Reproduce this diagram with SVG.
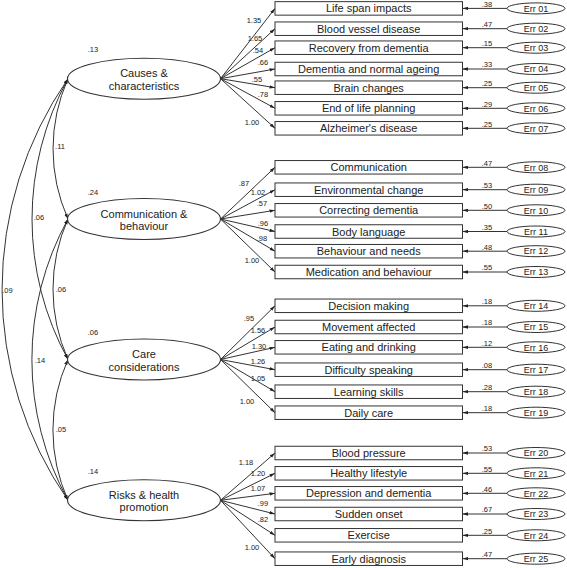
<svg xmlns="http://www.w3.org/2000/svg" width="567" height="568" viewBox="0 0 567 568">
<style>
.ln{fill:none;stroke:#333;stroke-width:1}
.ae{marker-end:url(#ah)}
.dbl{marker-start:url(#ah);marker-end:url(#ah)}
.box{fill:#fff;stroke:#333;stroke-width:1}
.lat{fill:#fff;stroke:#333;stroke-width:1.1}
.err{fill:#fff;stroke:#333;stroke-width:1}
text{font-family:"Liberation Sans",Arial,sans-serif;fill:#222}
.bt{font-size:11px;text-anchor:middle}
.lt{font-size:11px;text-anchor:middle}
.et{font-size:9px;text-anchor:middle}
.sm{font-size:7.5px;text-anchor:middle}
</style>
<defs>
<marker id="ah" viewBox="0 0 10 6" refX="10" refY="3" markerWidth="5.5" markerHeight="3.6" markerUnits="userSpaceOnUse" orient="auto-start-reverse">
<path d="M0,0 L10,3 L0,6 z" fill="#222"/>
</marker>
</defs>

<g id="connectors">
<!-- covariances -->
<path class="ln dbl" d="M68,78.7 A172,172 0 0 0 68,219"/>
<path class="ln dbl" d="M68,78.7 A292,292 0 0 0 68,359.5"/>
<path class="ln dbl" d="M68,78.7 A370,370 0 0 0 68,500.3"/>
<path class="ln dbl" d="M68,219 A172,172 0 0 0 68,359.5"/>
<path class="ln dbl" d="M68,219 A292,292 0 0 0 68,500.3"/>
<path class="ln dbl" d="M68,359.5 A172,172 0 0 0 68,500.3"/>
<!-- loadings -->
<path class="ln ae" d="M220.5,78.7 L275,8.4"/>
<path class="ln ae" d="M220.5,78.7 L275,28.7"/>
<path class="ln ae" d="M220.5,78.7 L275,47.7"/>
<path class="ln ae" d="M220.5,78.7 L275,69"/>
<path class="ln ae" d="M220.5,78.7 L275,87.7"/>
<path class="ln ae" d="M220.5,78.7 L275,108.3"/>
<path class="ln ae" d="M220.5,78.7 L275,128.3"/>
<path class="ln ae" d="M220.5,219 L275,167.3"/>
<path class="ln ae" d="M220.5,219 L275,189.7"/>
<path class="ln ae" d="M220.5,219 L275,210.3"/>
<path class="ln ae" d="M220.5,219 L275,231.5"/>
<path class="ln ae" d="M220.5,219 L275,251.2"/>
<path class="ln ae" d="M220.5,219 L275,272"/>
<path class="ln ae" d="M220.5,359.5 L275,305.8"/>
<path class="ln ae" d="M220.5,359.5 L275,327"/>
<path class="ln ae" d="M220.5,359.5 L275,347.3"/>
<path class="ln ae" d="M220.5,359.5 L275,369.7"/>
<path class="ln ae" d="M220.5,359.5 L275,391.7"/>
<path class="ln ae" d="M220.5,359.5 L275,412.7"/>
<path class="ln ae" d="M220.5,500.3 L275,453"/>
<path class="ln ae" d="M220.5,500.3 L275,473.3"/>
<path class="ln ae" d="M220.5,500.3 L275,493.3"/>
<path class="ln ae" d="M220.5,500.3 L275,514"/>
<path class="ln ae" d="M220.5,500.3 L275,535.3"/>
<path class="ln ae" d="M220.5,500.3 L275,558.7"/>
<!-- error arrows -->
<path class="ln ae" d="M507,8.4 L462.5,8.4"/>
<path class="ln ae" d="M507,28.7 L462.5,28.7"/>
<path class="ln ae" d="M507,47.7 L462.5,47.7"/>
<path class="ln ae" d="M507,69 L462.5,69"/>
<path class="ln ae" d="M507,87.7 L462.5,87.7"/>
<path class="ln ae" d="M507,108.3 L462.5,108.3"/>
<path class="ln ae" d="M507,128.3 L462.5,128.3"/>
<path class="ln ae" d="M507,167.3 L462.5,167.3"/>
<path class="ln ae" d="M507,189.7 L462.5,189.7"/>
<path class="ln ae" d="M507,210.3 L462.5,210.3"/>
<path class="ln ae" d="M507,231.5 L462.5,231.5"/>
<path class="ln ae" d="M507,251.2 L462.5,251.2"/>
<path class="ln ae" d="M507,272 L462.5,272"/>
<path class="ln ae" d="M507,305.8 L462.5,305.8"/>
<path class="ln ae" d="M507,327 L462.5,327"/>
<path class="ln ae" d="M507,347.3 L462.5,347.3"/>
<path class="ln ae" d="M507,369.7 L462.5,369.7"/>
<path class="ln ae" d="M507,391.7 L462.5,391.7"/>
<path class="ln ae" d="M507,412.7 L462.5,412.7"/>
<path class="ln ae" d="M507,453 L462.5,453"/>
<path class="ln ae" d="M507,473.3 L462.5,473.3"/>
<path class="ln ae" d="M507,493.3 L462.5,493.3"/>
<path class="ln ae" d="M507,514 L462.5,514"/>
<path class="ln ae" d="M507,535.3 L462.5,535.3"/>
<path class="ln ae" d="M507,558.7 L462.5,558.7"/>
<!-- covariance labels -->
<text class="sm" x="60" y="148.7">.11</text>
<text class="sm" x="39" y="219.7">.06</text>
<text class="sm" x="7.5" y="292.7">.09</text>
<text class="sm" x="61" y="291.7">.06</text>
<text class="sm" x="40" y="362.7">.14</text>
<text class="sm" x="61" y="431.7">.05</text>
<!-- loading labels -->
<text class="sm" x="254" y="22.7">1.35</text>
<text class="sm" x="255" y="40.7">1.65</text>
<text class="sm" x="258" y="52.7">.54</text>
<text class="sm" x="263" y="64.7">.66</text>
<text class="sm" x="257" y="81.7">.55</text>
<text class="sm" x="263" y="96.7">.78</text>
<text class="sm" x="252" y="124.7">1.00</text>
<text class="sm" x="244" y="185.7">.87</text>
<text class="sm" x="258" y="194.7">1.02</text>
<text class="sm" x="262" y="205.7">.57</text>
<text class="sm" x="263" y="225.7">.96</text>
<text class="sm" x="262" y="240.7">.98</text>
<text class="sm" x="252" y="262.7">1.00</text>
<text class="sm" x="249" y="320.7">.95</text>
<text class="sm" x="258" y="332.7">1.56</text>
<text class="sm" x="259" y="348.7">1.30</text>
<text class="sm" x="258" y="363.7">1.26</text>
<text class="sm" x="258" y="380.7">1.05</text>
<text class="sm" x="247" y="403.7">1.00</text>
<text class="sm" x="246" y="464.7">1.18</text>
<text class="sm" x="258" y="475.7">1.20</text>
<text class="sm" x="258" y="490.7">1.07</text>
<text class="sm" x="263" y="505.7">.99</text>
<text class="sm" x="263" y="521.7">.82</text>
<text class="sm" x="252" y="549.7">1.00</text>
<!-- error variance labels -->
<text class="sm" x="487" y="6.7">.38</text>
<text class="sm" x="487" y="27">.47</text>
<text class="sm" x="487" y="46">.15</text>
<text class="sm" x="487" y="67.3">.33</text>
<text class="sm" x="487" y="86">.25</text>
<text class="sm" x="487" y="106.6">.29</text>
<text class="sm" x="487" y="126.6">.25</text>
<text class="sm" x="487" y="165.6">.47</text>
<text class="sm" x="487" y="188">.53</text>
<text class="sm" x="487" y="208.6">.50</text>
<text class="sm" x="487" y="229.8">.35</text>
<text class="sm" x="487" y="249.5">.48</text>
<text class="sm" x="487" y="270.3">.55</text>
<text class="sm" x="487" y="304.1">.18</text>
<text class="sm" x="487" y="325.3">.18</text>
<text class="sm" x="487" y="345.6">.12</text>
<text class="sm" x="487" y="368">.08</text>
<text class="sm" x="487" y="390">.28</text>
<text class="sm" x="487" y="411">.18</text>
<text class="sm" x="487" y="451.3">.53</text>
<text class="sm" x="487" y="471.6">.55</text>
<text class="sm" x="487" y="491.6">.46</text>
<text class="sm" x="487" y="512.3">.67</text>
<text class="sm" x="487" y="533.6">.25</text>
<text class="sm" x="487" y="557">.47</text>
</g>

<!-- latent variables -->
<g id="causes">
<ellipse class="lat" cx="144" cy="78.7" rx="76.5" ry="20.5"/>
<text class="lt" x="144" y="77.2">Causes &amp;</text>
<text class="lt" x="144" y="89.5">characteristics</text>
<text class="sm" x="93" y="51.7">.13</text>
</g>
<g id="communication">
<ellipse class="lat" cx="144" cy="219" rx="76.5" ry="20.5"/>
<text class="lt" x="144" y="217.5">Communication &amp;</text>
<text class="lt" x="144" y="230">behaviour</text>
<text class="sm" x="93" y="195.4">.24</text>
</g>
<g id="care">
<ellipse class="lat" cx="144" cy="359.5" rx="76.5" ry="20.5"/>
<text class="lt" x="144" y="357.8">Care</text>
<text class="lt" x="144" y="370.5">considerations</text>
<text class="sm" x="93" y="335.4">.06</text>
</g>
<g id="risks">
<ellipse class="lat" cx="144" cy="500.3" rx="76.5" ry="20.5"/>
<text class="lt" x="144" y="498.6">Risks &amp; health</text>
<text class="lt" x="144" y="511.2">promotion</text>
<text class="sm" x="93" y="474.4">.14</text>
</g>

<!-- observed items -->
<g id="item01"><rect class="box" x="275" y="1.65" width="187.5" height="13.5"/><text class="bt" x="368.7" y="12.4">Life span impacts</text></g>
<g id="item02"><rect class="box" x="275" y="21.95" width="187.5" height="13.5"/><text class="bt" x="368.7" y="32.7">Blood vessel disease</text></g>
<g id="item03"><rect class="box" x="275" y="40.95" width="187.5" height="13.5"/><text class="bt" x="368.7" y="51.7">Recovery from dementia</text></g>
<g id="item04"><rect class="box" x="275" y="62.25" width="187.5" height="13.5"/><text class="bt" x="368.7" y="73">Dementia and normal ageing</text></g>
<g id="item05"><rect class="box" x="275" y="80.95" width="187.5" height="13.5"/><text class="bt" x="368.7" y="91.7">Brain changes</text></g>
<g id="item06"><rect class="box" x="275" y="101.55" width="187.5" height="13.5"/><text class="bt" x="368.7" y="112.3">End of life planning</text></g>
<g id="item07"><rect class="box" x="275" y="121.55" width="187.5" height="13.5"/><text class="bt" x="368.7" y="132.3">Alzheimer's disease</text></g>
<g id="item08"><rect class="box" x="275" y="160.55" width="187.5" height="13.5"/><text class="bt" x="368.7" y="171.3">Communication</text></g>
<g id="item09"><rect class="box" x="275" y="182.95" width="187.5" height="13.5"/><text class="bt" x="368.7" y="193.7">Environmental change</text></g>
<g id="item10"><rect class="box" x="275" y="203.55" width="187.5" height="13.5"/><text class="bt" x="368.7" y="214.3">Correcting dementia</text></g>
<g id="item11"><rect class="box" x="275" y="224.75" width="187.5" height="13.5"/><text class="bt" x="368.7" y="235.5">Body language</text></g>
<g id="item12"><rect class="box" x="275" y="244.45" width="187.5" height="13.5"/><text class="bt" x="368.7" y="255.2">Behaviour and needs</text></g>
<g id="item13"><rect class="box" x="275" y="265.25" width="187.5" height="13.5"/><text class="bt" x="368.7" y="276">Medication and behaviour</text></g>
<g id="item14"><rect class="box" x="275" y="299.05" width="187.5" height="13.5"/><text class="bt" x="368.7" y="309.8">Decision making</text></g>
<g id="item15"><rect class="box" x="275" y="320.25" width="187.5" height="13.5"/><text class="bt" x="368.7" y="331">Movement affected</text></g>
<g id="item16"><rect class="box" x="275" y="340.55" width="187.5" height="13.5"/><text class="bt" x="368.7" y="351.3">Eating and drinking</text></g>
<g id="item17"><rect class="box" x="275" y="362.95" width="187.5" height="13.5"/><text class="bt" x="368.7" y="373.7">Difficulty speaking</text></g>
<g id="item18"><rect class="box" x="275" y="384.95" width="187.5" height="13.5"/><text class="bt" x="368.7" y="395.7">Learning skills</text></g>
<g id="item19"><rect class="box" x="275" y="405.95" width="187.5" height="13.5"/><text class="bt" x="368.7" y="416.7">Daily care</text></g>
<g id="item20"><rect class="box" x="275" y="446.25" width="187.5" height="13.5"/><text class="bt" x="368.7" y="457">Blood pressure</text></g>
<g id="item21"><rect class="box" x="275" y="466.55" width="187.5" height="13.5"/><text class="bt" x="368.7" y="477.3">Healthy lifestyle</text></g>
<g id="item22"><rect class="box" x="275" y="486.55" width="187.5" height="13.5"/><text class="bt" x="368.7" y="497.3">Depression and dementia</text></g>
<g id="item23"><rect class="box" x="275" y="507.25" width="187.5" height="13.5"/><text class="bt" x="368.7" y="518">Sudden onset</text></g>
<g id="item24"><rect class="box" x="275" y="528.55" width="187.5" height="13.5"/><text class="bt" x="368.7" y="539.3">Exercise</text></g>
<g id="item25"><rect class="box" x="275" y="551.95" width="187.5" height="13.5"/><text class="bt" x="368.7" y="562.7">Early diagnosis</text></g>

<!-- error terms -->
<g id="err01"><ellipse class="err" cx="536" cy="8.4" rx="29" ry="5.5"/><text class="et" x="536" y="11.6">Err 01</text></g>
<g id="err02"><ellipse class="err" cx="536" cy="28.7" rx="29" ry="5.5"/><text class="et" x="536" y="31.9">Err 02</text></g>
<g id="err03"><ellipse class="err" cx="536" cy="47.7" rx="29" ry="5.5"/><text class="et" x="536" y="50.9">Err 03</text></g>
<g id="err04"><ellipse class="err" cx="536" cy="69" rx="29" ry="5.5"/><text class="et" x="536" y="72.2">Err 04</text></g>
<g id="err05"><ellipse class="err" cx="536" cy="87.7" rx="29" ry="5.5"/><text class="et" x="536" y="90.9">Err 05</text></g>
<g id="err06"><ellipse class="err" cx="536" cy="108.3" rx="29" ry="5.5"/><text class="et" x="536" y="111.5">Err 06</text></g>
<g id="err07"><ellipse class="err" cx="536" cy="128.3" rx="29" ry="5.5"/><text class="et" x="536" y="131.5">Err 07</text></g>
<g id="err08"><ellipse class="err" cx="536" cy="167.3" rx="29" ry="5.5"/><text class="et" x="536" y="170.5">Err 08</text></g>
<g id="err09"><ellipse class="err" cx="536" cy="189.7" rx="29" ry="5.5"/><text class="et" x="536" y="192.9">Err 09</text></g>
<g id="err10"><ellipse class="err" cx="536" cy="210.3" rx="29" ry="5.5"/><text class="et" x="536" y="213.5">Err 10</text></g>
<g id="err11"><ellipse class="err" cx="536" cy="231.5" rx="29" ry="5.5"/><text class="et" x="536" y="234.7">Err 11</text></g>
<g id="err12"><ellipse class="err" cx="536" cy="251.2" rx="29" ry="5.5"/><text class="et" x="536" y="254.4">Err 12</text></g>
<g id="err13"><ellipse class="err" cx="536" cy="272" rx="29" ry="5.5"/><text class="et" x="536" y="275.2">Err 13</text></g>
<g id="err14"><ellipse class="err" cx="536" cy="305.8" rx="29" ry="5.5"/><text class="et" x="536" y="309">Err 14</text></g>
<g id="err15"><ellipse class="err" cx="536" cy="327" rx="29" ry="5.5"/><text class="et" x="536" y="330.2">Err 15</text></g>
<g id="err16"><ellipse class="err" cx="536" cy="347.3" rx="29" ry="5.5"/><text class="et" x="536" y="350.5">Err 16</text></g>
<g id="err17"><ellipse class="err" cx="536" cy="369.7" rx="29" ry="5.5"/><text class="et" x="536" y="372.9">Err 17</text></g>
<g id="err18"><ellipse class="err" cx="536" cy="391.7" rx="29" ry="5.5"/><text class="et" x="536" y="394.9">Err 18</text></g>
<g id="err19"><ellipse class="err" cx="536" cy="412.7" rx="29" ry="5.5"/><text class="et" x="536" y="415.9">Err 19</text></g>
<g id="err20"><ellipse class="err" cx="536" cy="453" rx="29" ry="5.5"/><text class="et" x="536" y="456.2">Err 20</text></g>
<g id="err21"><ellipse class="err" cx="536" cy="473.3" rx="29" ry="5.5"/><text class="et" x="536" y="476.5">Err 21</text></g>
<g id="err22"><ellipse class="err" cx="536" cy="493.3" rx="29" ry="5.5"/><text class="et" x="536" y="496.5">Err 22</text></g>
<g id="err23"><ellipse class="err" cx="536" cy="514" rx="29" ry="5.5"/><text class="et" x="536" y="517.2">Err 23</text></g>
<g id="err24"><ellipse class="err" cx="536" cy="535.3" rx="29" ry="5.5"/><text class="et" x="536" y="538.5">Err 24</text></g>
<g id="err25"><ellipse class="err" cx="536" cy="558.7" rx="29" ry="5.5"/><text class="et" x="536" y="561.9">Err 25</text></g>
</svg>
